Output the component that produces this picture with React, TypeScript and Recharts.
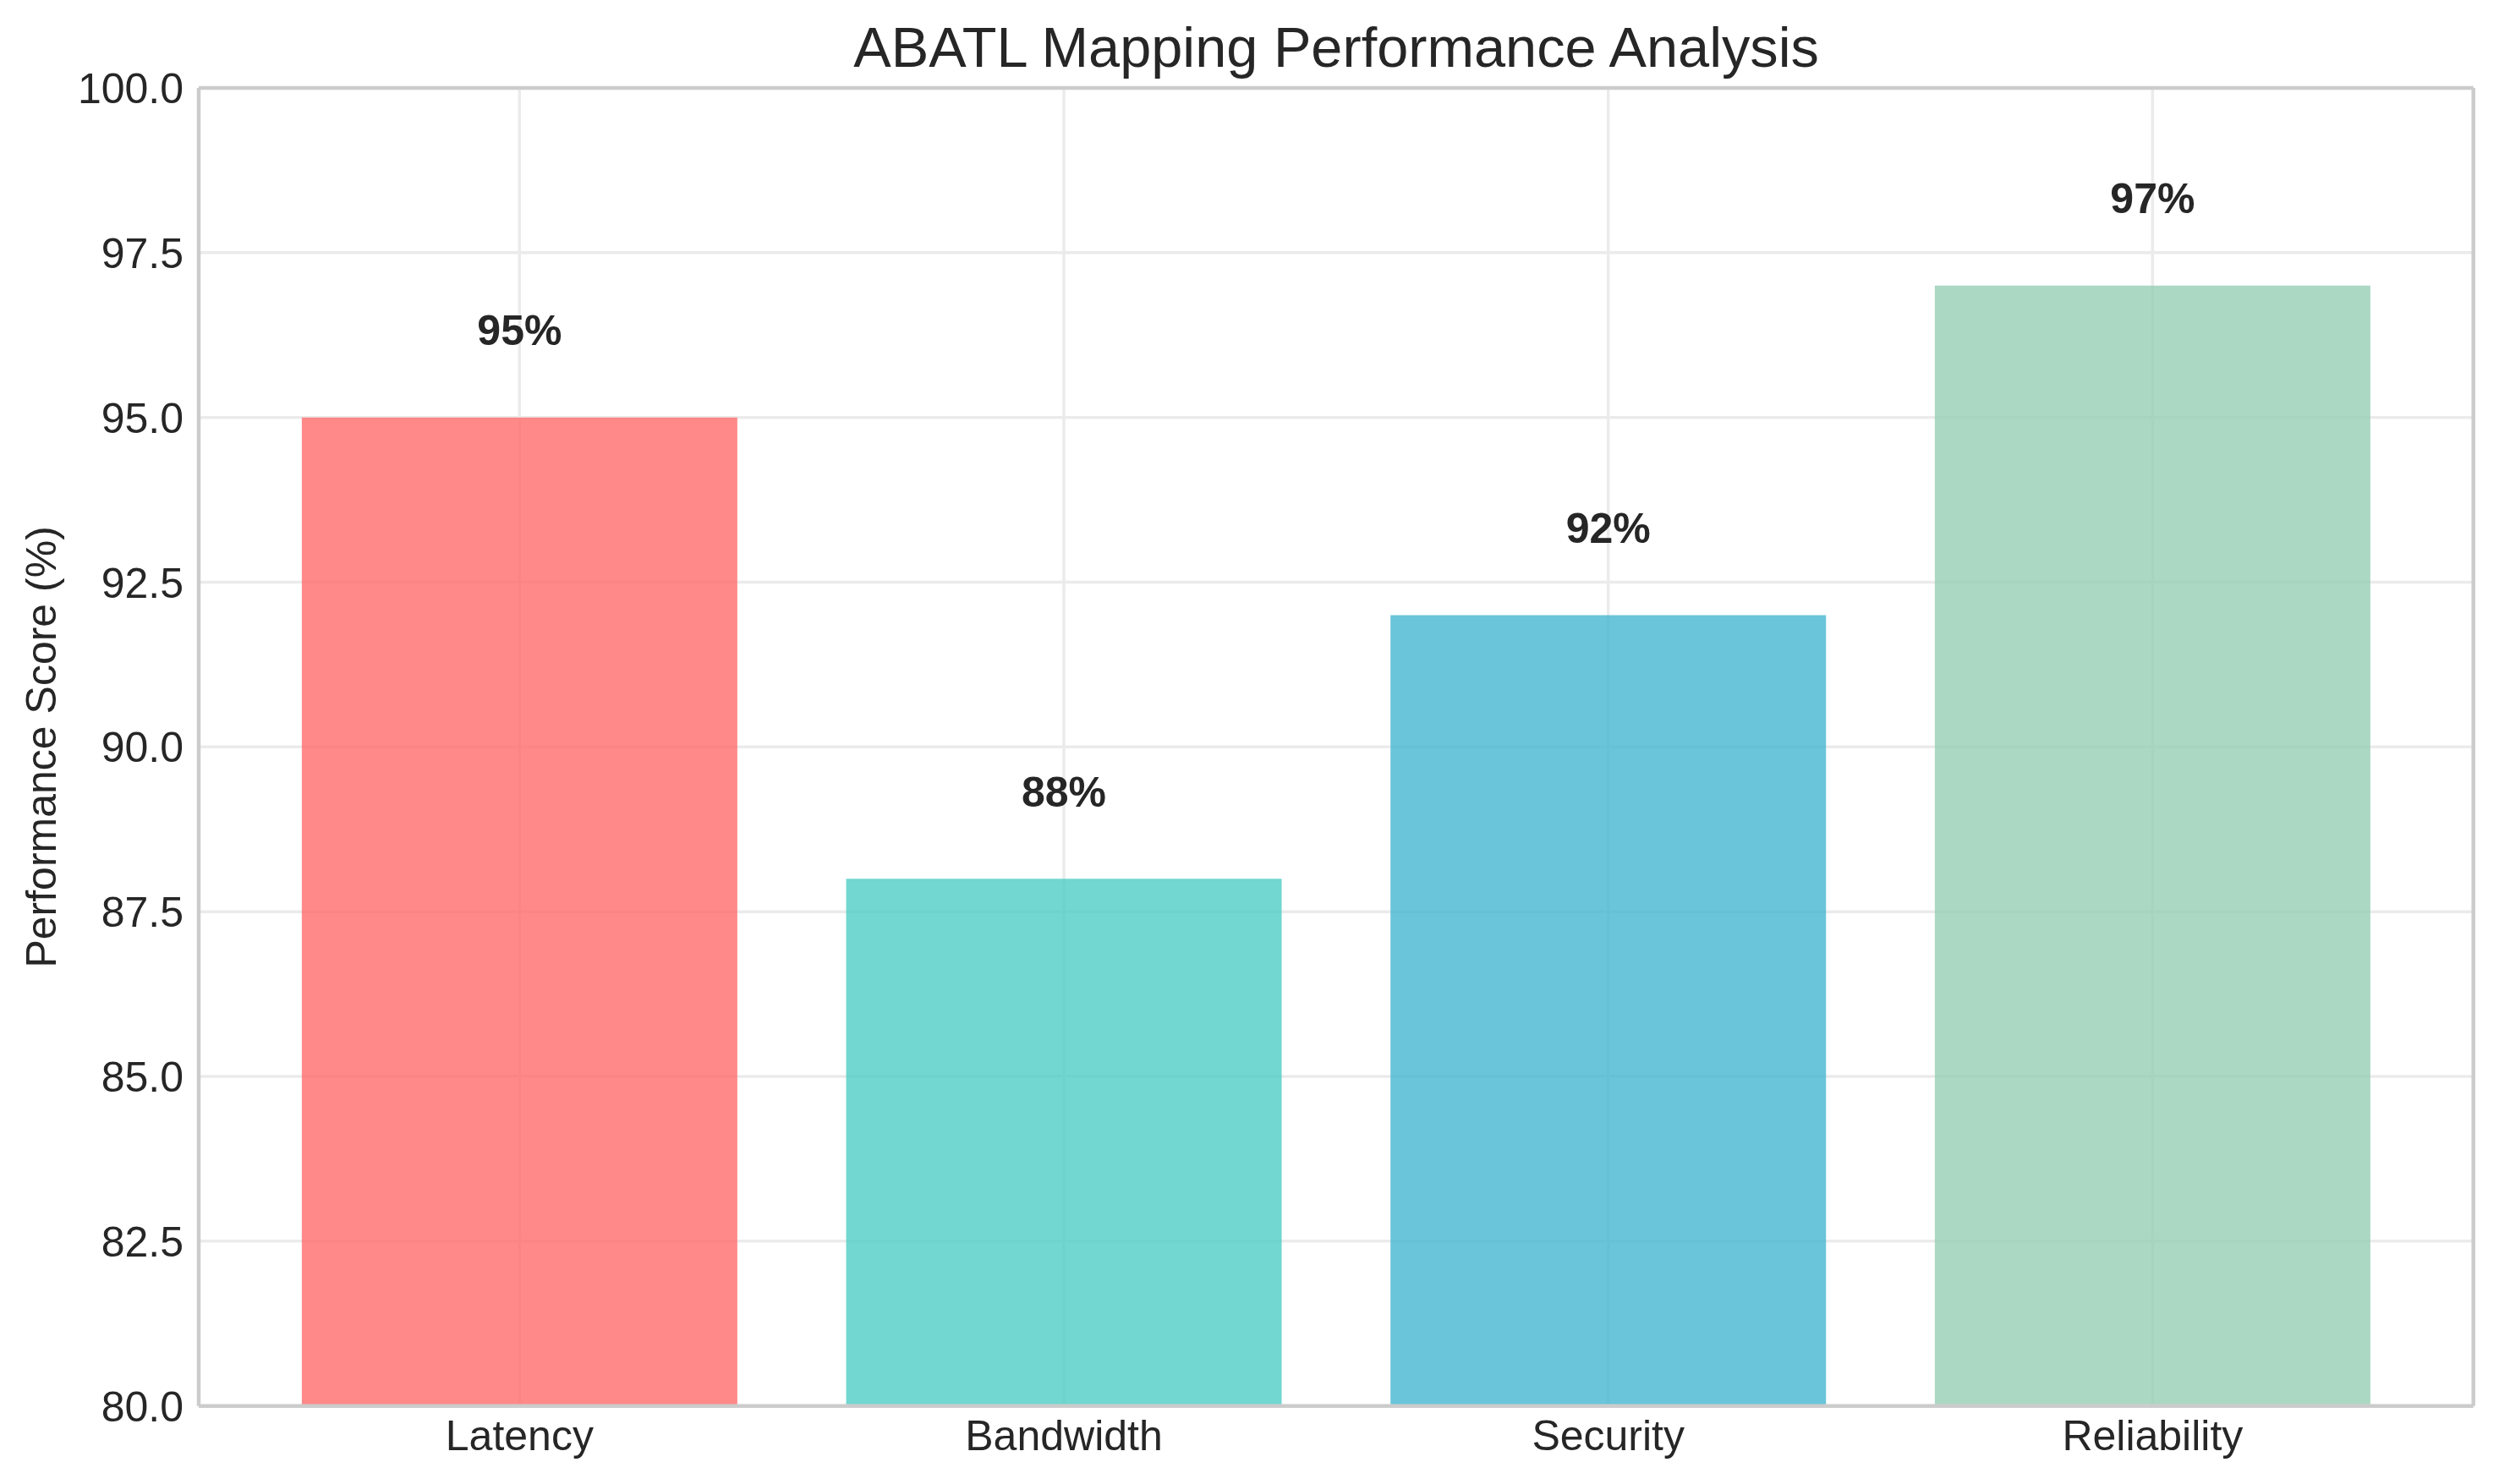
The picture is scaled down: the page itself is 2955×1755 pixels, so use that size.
import React from 'react';
import { BarChart, Bar, XAxis, YAxis, CartesianGrid, Cell } from 'recharts';

const categories: string[] = ['Latency', 'Bandwidth', 'Security', 'Reliability'];
const scores: number[] = [95, 88, 92, 97];
const barColors: string[] = ['#FF6B6B', '#4ECDC4', '#45B7D1', '#96CEB4'];
const yTicks: number[] = [80, 82.5, 85, 87.5, 90, 92.5, 95, 97.5, 100];
const yDomain: [number, number] = [80, 100];
const labelLift = 1; // value labels sit one unit above each bar
const titleText = 'ABATL Mapping Performance Analysis';
const yLabelText = 'Performance Score (%)';

const data = categories.map((name, i) => ({ name, score: scores[i] }));

const W = 2955;
const H = 1755;
const FONT = '"Liberation Sans", Arial, Helvetica, sans-serif';
const TEXT = '#262626';
const FRAME = '#cccccc';
const GRID = '#ebebeb';

const XTick = (props: any) => {
  const { x, y, payload } = props;
  return (
    <text x={x} y={y + 52} textAnchor="middle" fontFamily={FONT} fontSize={50} fill={TEXT}>
      {payload.value}
    </text>
  );
};

const YTick = (props: any) => {
  const { x, y, payload } = props;
  return (
    <text x={x} y={y + 18} textAnchor="end" fontFamily={FONT} fontSize={50} fill={TEXT}>
      {Number(payload.value).toFixed(1)}
    </text>
  );
};

const ValueLabel = (props: any) => {
  const { x, y, width, height, value } = props;
  const pxPerUnit = height / (value - yDomain[0]);
  const baseline = y - pxPerUnit * labelLift - 7.5;
  return (
    <text
      x={x + width / 2}
      y={baseline}
      textAnchor="middle"
      fontFamily={FONT}
      fontSize={50}
      fontWeight="bold"
      fill={TEXT}
    >
      {`${value}%`}
    </text>
  );
};

export default function App() {
  return (
    <div style={{ position: 'absolute', left: 0, top: 0, width: W, height: H, background: '#ffffff' }}>
      <BarChart
        width={W}
        height={H}
        data={data}
        margin={{ top: 103, right: 29.3, bottom: 0, left: 0 }}
        barCategoryGap="10%"
      >
        <CartesianGrid stroke={GRID} strokeWidth={3.5} vertical={true} horizontal={true} />
        <XAxis
          dataKey="name"
          height={92.3}
          padding={{ left: 57.5, right: 57.5 }}
          axisLine={{ stroke: FRAME, strokeWidth: 4.5 }}
          tickLine={false}
          tickSize={0}
          tickMargin={0}
          tick={<XTick />}
          interval={0}
        />
        <XAxis
          xAxisId="top"
          orientation="top"
          dataKey="name"
          height={1}
          padding={{ left: 57.5, right: 57.5 }}
          axisLine={{ stroke: FRAME, strokeWidth: 4.5 }}
          tickLine={false}
          tick={false}
        />
        <YAxis
          width={235}
          domain={yDomain}
          ticks={yTicks}
          type="number"
          allowDataOverflow
          axisLine={{ stroke: FRAME, strokeWidth: 4.5 }}
          tickLine={false}
          tickSize={0}
          tickMargin={18}
          tick={<YTick />}
          interval={0}
        />
        <YAxis
          yAxisId="right"
          orientation="right"
          width={1}
          domain={yDomain}
          type="number"
          axisLine={{ stroke: FRAME, strokeWidth: 4.5 }}
          tickLine={false}
          tick={false}
        />
        <Bar dataKey="score" isAnimationActive={false} fillOpacity={0.8} label={ValueLabel}>
          {data.map((d, i) => (
            <Cell key={d.name} fill={barColors[i]} />
          ))}
        </Bar>
      </BarChart>
      <svg
        width={W}
        height={H}
        style={{ position: 'absolute', left: 0, top: 0, pointerEvents: 'none' }}
      >
        <text x={1580} y={79.3} textAnchor="middle" fontFamily={FONT} fontSize={66.7} fill={TEXT}>
          {titleText}
        </text>
        <text
          x={66}
          y={883.4}
          textAnchor="middle"
          fontFamily={FONT}
          fontSize={50}
          fill={TEXT}
          transform="rotate(-90, 66, 883.4)"
        >
          {yLabelText}
        </text>
      </svg>
    </div>
  );
}
